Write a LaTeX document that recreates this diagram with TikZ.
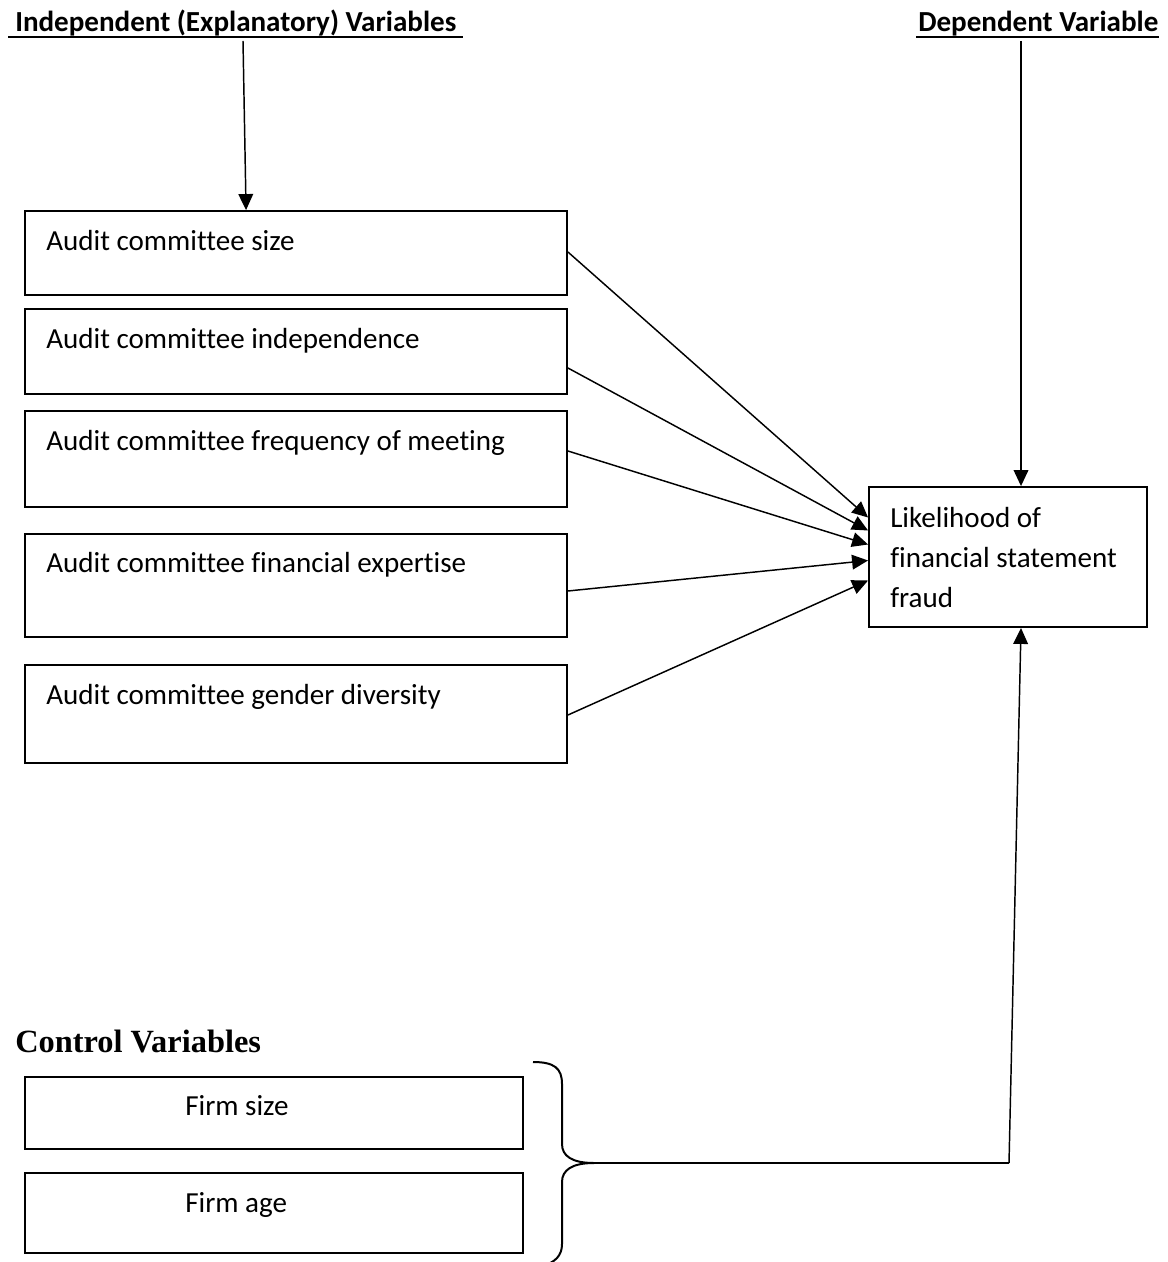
\documentclass[tikz,border=0pt]{standalone}
\usepackage{fontspec}
\setmainfont{Carlito}[Ligatures={NoCommon,NoRequired,NoContextual}]
\newfontfamily\ctrlfont{Liberation Serif}
\usetikzlibrary{arrows.meta,calc,fit}
\begin{document}
\begin{tikzpicture}[x=0.75pt,y=-0.75pt,
  box/.style={draw, line width=1.4pt, inner sep=0pt},
  lbl/.style={inner sep=0pt, anchor=base west, font=\fontsize{21.8}{25}\selectfont},
  hdr/.style={inner sep=0pt, anchor=base west, font=\fontsize{21.8}{25}\selectfont\bfseries},
  conn/.style={line width=1.1pt, -{Triangle[length=12pt,width=11pt]}},
  plain/.style={line width=1.1pt},
  uline/.style={line width=1.4pt}]
\useasboundingbox (0,0) rectangle (1167,1262);

% headers
\node[hdr] (hin) at (15,32) {Independent (Explanatory) Variables};
\draw[uline] ($(hin.base west)+(-7,5)$) -- ($(hin.base east)+(7,5)$);
\node[hdr] (hdep) at (918,32) {Dependent Variable};
\draw[uline] ($(hdep.base west)+(-2,5)$) -- ($(hdep.base east)+(0,5)$);

% independent variable boxes
\node[box, fit={(25,211) (567,295)}] (b1) {};
\node[box, fit={(25,309) (567,394)}] (b2) {};
\node[box, fit={(25,411) (567,507)}] (b3) {};
\node[box, fit={(25,534) (567,637)}] (b4) {};
\node[box, fit={(25,665) (567,763)}] (b5) {};
\node[lbl] (t1) at (46,251) {Audit committee size};
\node[lbl] (t2) at (46,348) {Audit committee independence};
\node[lbl] (t3) at (46,450) {Audit committee frequency of meeting};
\node[lbl] (t4) at (46,572) {Audit committee financial expertise};
\node[lbl] (t5) at (46,704) {Audit committee gender diversity};

% dependent variable box
\node[box, fit={(869,487) (1147,627)}] (dv) {};
\node[lbl] (d1) at (890,527) {Likelihood of};
\node[lbl] (d2) at (890,567) {financial statement};
\node[lbl] (d3) at (890,607) {fraud};

% control variables
\node[inner sep=0pt, anchor=base west, font=\ctrlfont\fontsize{24.3}{28}\selectfont\bfseries] (hc) at (15,1052) {Control Variables};
\node[box, fit={(25,1077) (523,1149)}] (c1) {};
\node[box, fit={(25,1173) (523,1253)}] (c2) {};
\node[lbl] (ct1) at (185,1115) {Firm size};
\node[lbl] (ct2) at (185,1212) {Firm age};

% brace
\coordinate (tip) at (594,1163);
\draw[line width=1.5pt] (533,1062) .. controls (554,1062) and (562,1068) .. (562,1084) -- (562,1144)
  .. controls (562,1156) and (572,1163) .. (tip)
  .. controls (572,1163) and (562,1170) .. (562,1182) -- (562,1244)
  .. controls (562,1256) and (555,1262) .. (543,1266);

% connectors
\coordinate (a1) at (243,41);
\draw[conn] (a1) -- ($(b1.north west)+(222,0)$);
\coordinate (a2) at (1021,41);
\draw[conn] (a2) -- ($(dv.north)+(13,0)$);

\draw[conn] ($(b1.east)+(0,-1)$) -- ($(dv.west)+(0,-39.5)$);
\draw[conn] ($(b2.east)+(0,16.5)$) -- ($(dv.west)+(0,-26.5)$);
\draw[conn] ($(b3.east)+(0,-8)$) -- ($(dv.west)+(0,-12.5)$);
\draw[conn] ($(b4.east)+(0,5.5)$) -- ($(dv.west)+(0,3.5)$);
\draw[conn] ($(b5.east)+(0,1)$) -- ($(dv.west)+(0,23.5)$);

\coordinate (corner) at (1009,1163);
\draw[plain] (tip) -- (corner);
\draw[conn] (corner) -- ($(dv.south)+(13,0)$);
\end{tikzpicture}
\end{document}
